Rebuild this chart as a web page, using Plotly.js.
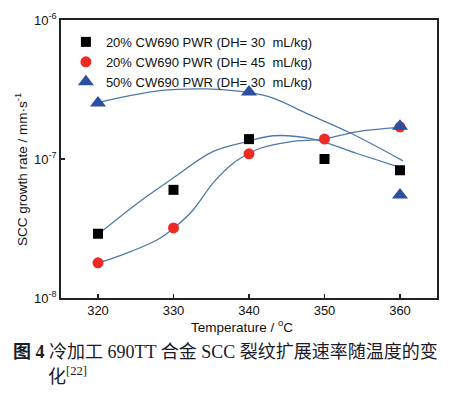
<!DOCTYPE html>
<html>
<head>
<meta charset="utf-8">
<script src="https://cdn.plot.ly/plotly-3.0.1.min.js"></script>
<style>html,body{margin:0;padding:0;background:#fff;}#chart{width:461px;height:393px;}</style>
</head>
<body>
<div id="chart"></div>
<script>
// Measured points
const temps = [320, 330, 340, 350, 360];
const cw20_dh30 = [2.9e-8, 6.0e-8, 1.39e-7, 1.0e-7, 8.3e-8];
const cw20_dh45 = [1.79e-8, 3.19e-8, 1.09e-7, 1.39e-7, 1.70e-7];
const cw50_temps = [320, 340, 360, 360];
const cw50_dh30 = [2.53e-7, 3.03e-7, 1.72e-7, 5.5e-8];

// Fitted trend curves
const fitSqT = [320, 325.5, 329.9, 335.2, 339.9, 343.2, 348.5, 354.2, 360.4];
const fitSqV = [2.87e-8, 4.93e-8, 7.26e-8, 1.13e-7, 1.34e-7, 1.47e-7, 1.39e-7, 1.10e-7, 8.57e-8];
const fitCiT = [320, 323.8, 328.2, 330.0, 332.6, 335.2, 337.9, 339.9, 341.4, 345.4, 349.9, 354.2, 360];
const fitCiV = [1.78e-8, 2.10e-8, 2.69e-8, 3.17e-8, 4.30e-8, 6.68e-8, 9.31e-8, 1.09e-7, 1.19e-7, 1.33e-7, 1.39e-7, 1.57e-7, 1.69e-7];
const fitTrT = [320.2, 328.2, 334.4, 339.9, 343.2, 347.6, 353.3, 360.4];
const fitTrV = [2.56e-7, 3.10e-7, 3.19e-7, 3.01e-7, 2.74e-7, 2.13e-7, 1.55e-7, 9.7e-8];

const legendNames = [
  '20% CW690 PWR (DH= 30  mL/kg)',
  '20% CW690 PWR (DH= 45  mL/kg)',
  '50% CW690 PWR (DH= 30  mL/kg)'
];
const xTicks = [320, 330, 340, 350, 360];
const yTicks = [1e-8, 1e-7, 1e-6];
const yTickText = ['10<sup>-8</sup>', '10<sup>-7</sup>', '10<sup>-6</sup>'];
const xTitle = 'Temperature / <sup>o</sup>C';
const yTitle = 'SCC growth rate / mm·s<sup>-1</sup>';
const captionLine1 = '<b>图 4</b> 冷加工 690TT 合金 SCC 裂纹扩展速率随温度的变';
const captionLine2 = '化<sup>[22]</sup>';

const lineColor = '#5079a8';
const fitStyle = {color: lineColor, width: 1.3, shape: 'spline', smoothing: 1};

const traces = [
  {x: fitSqT, y: fitSqV, mode: 'lines', line: fitStyle, showlegend: false, hoverinfo: 'skip'},
  {x: fitCiT, y: fitCiV, mode: 'lines', line: fitStyle, showlegend: false, hoverinfo: 'skip'},
  {x: fitTrT, y: fitTrV, mode: 'lines', line: fitStyle, showlegend: false, hoverinfo: 'skip'},
  {x: temps, y: cw20_dh30, mode: 'markers', name: legendNames[0],
   marker: {symbol: 'square', size: 10, color: '#000000'}},
  {x: temps, y: cw20_dh45, mode: 'markers', name: legendNames[1],
   marker: {symbol: 'circle', size: 11, color: '#ee2a24'}},
  {x: cw50_temps, y: cw50_dh30, mode: 'markers', name: legendNames[2],
   marker: {symbol: 'triangle-up', size: 14, color: '#2d4fa0'}}
];

const font = {family: 'Liberation Sans, Arial, sans-serif', size: 13, color: '#111'};
const capFont = {family: 'Liberation Serif, Noto Sans CJK SC, serif', size: 18, color: '#1a1a2a'};

const layout = {
  width: 461, height: 393,
  margin: {l: 61, r: 24, t: 20, b: 95},
  paper_bgcolor: '#fff', plot_bgcolor: '#fff',
  font: font,
  showlegend: true,
  legend: {x: 0.013, y: 0.975, xanchor: 'left', yanchor: 'top', bgcolor: 'rgba(0,0,0,0)',
           font: {family: font.family, size: 13, color: '#111'}, itemwidth: 30, tracegroupgap: 0},
  xaxis: {
    range: [315.1, 364.9], tickvals: xTicks, ticks: 'inside', ticklen: 4, tickwidth: 1.5,
    tickcolor: '#222', showline: true, linecolor: '#222', linewidth: 1.8, mirror: true,
    showgrid: false, zeroline: false, tickfont: {size: 13}
  },
  yaxis: {
    type: 'log', range: [-8, -6], tickvals: yTicks, ticktext: yTickText,
    ticks: 'inside', ticklen: 4, tickwidth: 1.5, tickcolor: '#222',
    showline: true, linecolor: '#222', linewidth: 1.8, mirror: true,
    showgrid: false, zeroline: false, tickfont: {size: 13}
  },
  annotations: [
    {xref: 'paper', yref: 'paper', x: (241.5 - 61) / 376, y: (298 - 326) / 278,
     xanchor: 'center', yanchor: 'middle', text: xTitle, showarrow: false, font: {size: 13.5}},
    {xref: 'paper', yref: 'paper', x: (21 - 61) / 376, y: (298 - 170) / 278,
     xanchor: 'center', yanchor: 'middle', textangle: -90, text: yTitle, showarrow: false, font: {size: 13.5}},
    {xref: 'paper', yref: 'paper', x: -0.133, y: -0.194, xanchor: 'left', yanchor: 'middle',
     text: captionLine1, showarrow: false, font: capFont},
    {xref: 'paper', yref: 'paper', x: -0.041, y: -0.277, xanchor: 'left', yanchor: 'middle',
     text: captionLine2, showarrow: false, font: capFont}
  ]
};

Plotly.newPlot('chart', traces, layout, {displayModeBar: false, staticPlot: true});
</script>
</body>
</html>
